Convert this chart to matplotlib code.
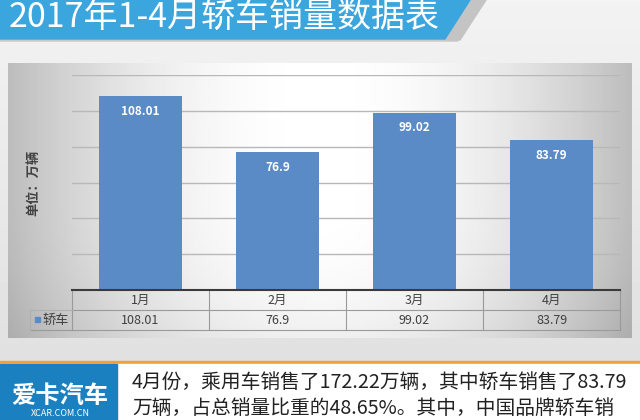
import numpy as np
import matplotlib
matplotlib.use("Agg")
import matplotlib.pyplot as plt
from matplotlib.patches import Polygon, Rectangle
from matplotlib.transforms import blended_transform_factory

plt.rcParams['font.family'] = ['Noto Sans CJK SC', 'DejaVu Sans']

# Datos
meses = ["1月", "2月", "3月", "4月"]
ventas = [108.01, 76.9, 99.02, 83.79]
valores_txt = ["108.01", "76.9", "99.02", "83.79"]
serie = "轿车"
titulo = "2017年1-4月轿车销量数据表"
unidad = "单位：万辆"
texto_1 = "4月份，乘用车销售了172.22万辆，其中轿车销售了83.79"
texto_2 = "万辆，占总销量比重的48.65%。其中，中国品牌轿车销"

AZUL_BARRA = "#5b8bc6"
AZUL_BANNER = "#3aa6dd"
AZUL_LOGO = "#1b80bf"
NARANJA = "#eea238"
GRIS_TXT = "#404040"

W, H = 640, 420
fig = plt.figure(figsize=(W / 100, H / 100), dpi=100)
fig.patch.set_facecolor("#e8e8e8")

# Fondo en coordenadas de pixel
ax0 = fig.add_axes([0, 0, 1, 1])
ax0.set_xlim(0, W)
ax0.set_ylim(H, 0)
ax0.axis("off")

# fondo general con leve degradado
fondo = np.tile(np.linspace(0.95, 0.88, 64)[:, None], (1, 64))
ax0.imshow(fondo, cmap="gray", vmin=0, vmax=1, extent=(0, W, 362, 0),
           aspect="auto", zorder=0)

# banner del titulo
ax0.add_patch(Polygon([(0, 39), (445, 39), (458, 41), (0, 41)],
                      closed=True, color="#c8c8c8", zorder=1))
ax0.add_patch(Polygon([(470, 0), (486, 0), (460, 40), (445, 40)],
                      closed=True, color="#c4c4c4", zorder=1))
ax0.add_patch(Polygon([(0, 0), (470, 0), (445, 39), (0, 39)],
                      closed=True, color=AZUL_BANNER, zorder=2))
ax0.text(9, 28, titulo, color="white", fontsize=24.5, va="baseline",
         ha="left", zorder=3)

# panel del grafico con degradado (blanco al centro)
xs = np.linspace(-1, 1, 200)
ys = np.linspace(-1, 1, 100)
gx, gy = np.meshgrid(xs, ys)
panel = 1.0 - 0.26 * np.abs(gx) ** 2.0 - 0.06 * np.clip(gy, 0, 1) ** 2
ax0.imshow(panel, cmap="gray", vmin=0, vmax=1, extent=(8, 632, 338, 63),
           aspect="auto", zorder=1)

# parte inferior
ax0.add_patch(Rectangle((0, 361), W, 3, color=NARANJA, zorder=2))
ax0.add_patch(Rectangle((0, 364), W, 56, color="white", zorder=2))
ax0.add_patch(Rectangle((0, 364), 117, 56, color=AZUL_LOGO, zorder=3))
ax0.text(60, 396, "爱卡汽车", color="white", fontsize=17.5, fontweight="bold",
         ha="center", va="center", zorder=4)
ax0.text(60, 414, "XCAR.COM.CN", color="white", fontsize=6.5,
         ha="center", va="center", zorder=4)
ax0.text(132, 382, texto_1, color="#222222", fontsize=14.2, ha="left",
         va="center", zorder=4)
ax0.text(132, 408, texto_2, color="#222222", fontsize=14.2, ha="left",
         va="center", zorder=4)

# eje de datos
ax = fig.add_axes([72 / W, (H - 290) / H, 548 / W, 215 / H])
ax.patch.set_alpha(0)
x = np.arange(len(meses))
barras = ax.bar(x, ventas, width=0.6, color=AZUL_BARRA, zorder=3)
ax.set_xlim(-0.5, len(meses) - 0.5)
ax.set_ylim(0, 120)
ax.set_yticks(np.arange(0, 121, 20))
ax.grid(True, axis="y", color="#b8b8b8", linewidth=1, zorder=0)
ax.tick_params(left=False, bottom=False, labelleft=False, labelbottom=False)
for s in ["top", "right", "left"]:
    ax.spines[s].set_visible(False)
ax.spines["bottom"].set_color("#3a3a3a")
ax.spines["bottom"].set_linewidth(1.5)
ax.spines["bottom"].set_zorder(4)

for b, t in zip(barras, valores_txt):
    ax.annotate(t, (b.get_x() + b.get_width() / 2, b.get_height()),
                xytext=(0, -11), textcoords="offset points",
                ha="center", va="center", color="white", fontsize=8.5,
                fontweight="bold", zorder=5)

# rotulo del eje y
ax0.text(33, 183, unidad, rotation=90, color=GRIS_TXT, fontsize=9.5,
         fontweight="bold", ha="center", va="center", zorder=4)

# tabla de datos bajo el eje
tr = blended_transform_factory(ax.transData, ax0.transData)
col_lineas = np.arange(len(meses) + 1) - 0.5
for c in col_lineas:
    ax0.plot([c, c], [290, 330], color="#9a9a9a", lw=0.8, transform=tr,
             zorder=4)
ax0.plot([-0.5, len(meses) - 0.5], [310, 310], color="#9a9a9a", lw=0.8,
         transform=tr, zorder=4)
ax0.plot([-0.5, len(meses) - 0.5], [330, 330], color="#9a9a9a", lw=0.8,
         transform=tr, zorder=4)
for i, (m, t) in enumerate(zip(meses, valores_txt)):
    ax0.text(i, 300, m, transform=tr, ha="center", va="center",
             color=GRIS_TXT, fontsize=9, zorder=5)
    ax0.text(i, 320, t, transform=tr, ha="center", va="center",
             color=GRIS_TXT, fontsize=9, zorder=5)

# celda de leyenda
ax0.plot([30, 72], [310, 310], color="#b0b0b0", lw=0.8, zorder=4)
ax0.plot([30, 72], [330, 330], color="#9a9a9a", lw=0.8, zorder=4)
ax0.plot([30, 30], [310, 330], color="#b0b0b0", lw=0.8, zorder=4)
ax0.add_patch(Rectangle((35, 317), 5, 5, color=AZUL_BARRA, zorder=5))
ax0.text(42, 320, serie, ha="left", va="center", color=GRIS_TXT,
         fontsize=9.5, zorder=5)

fig.savefig("out.png", dpi=100, facecolor=fig.get_facecolor())
